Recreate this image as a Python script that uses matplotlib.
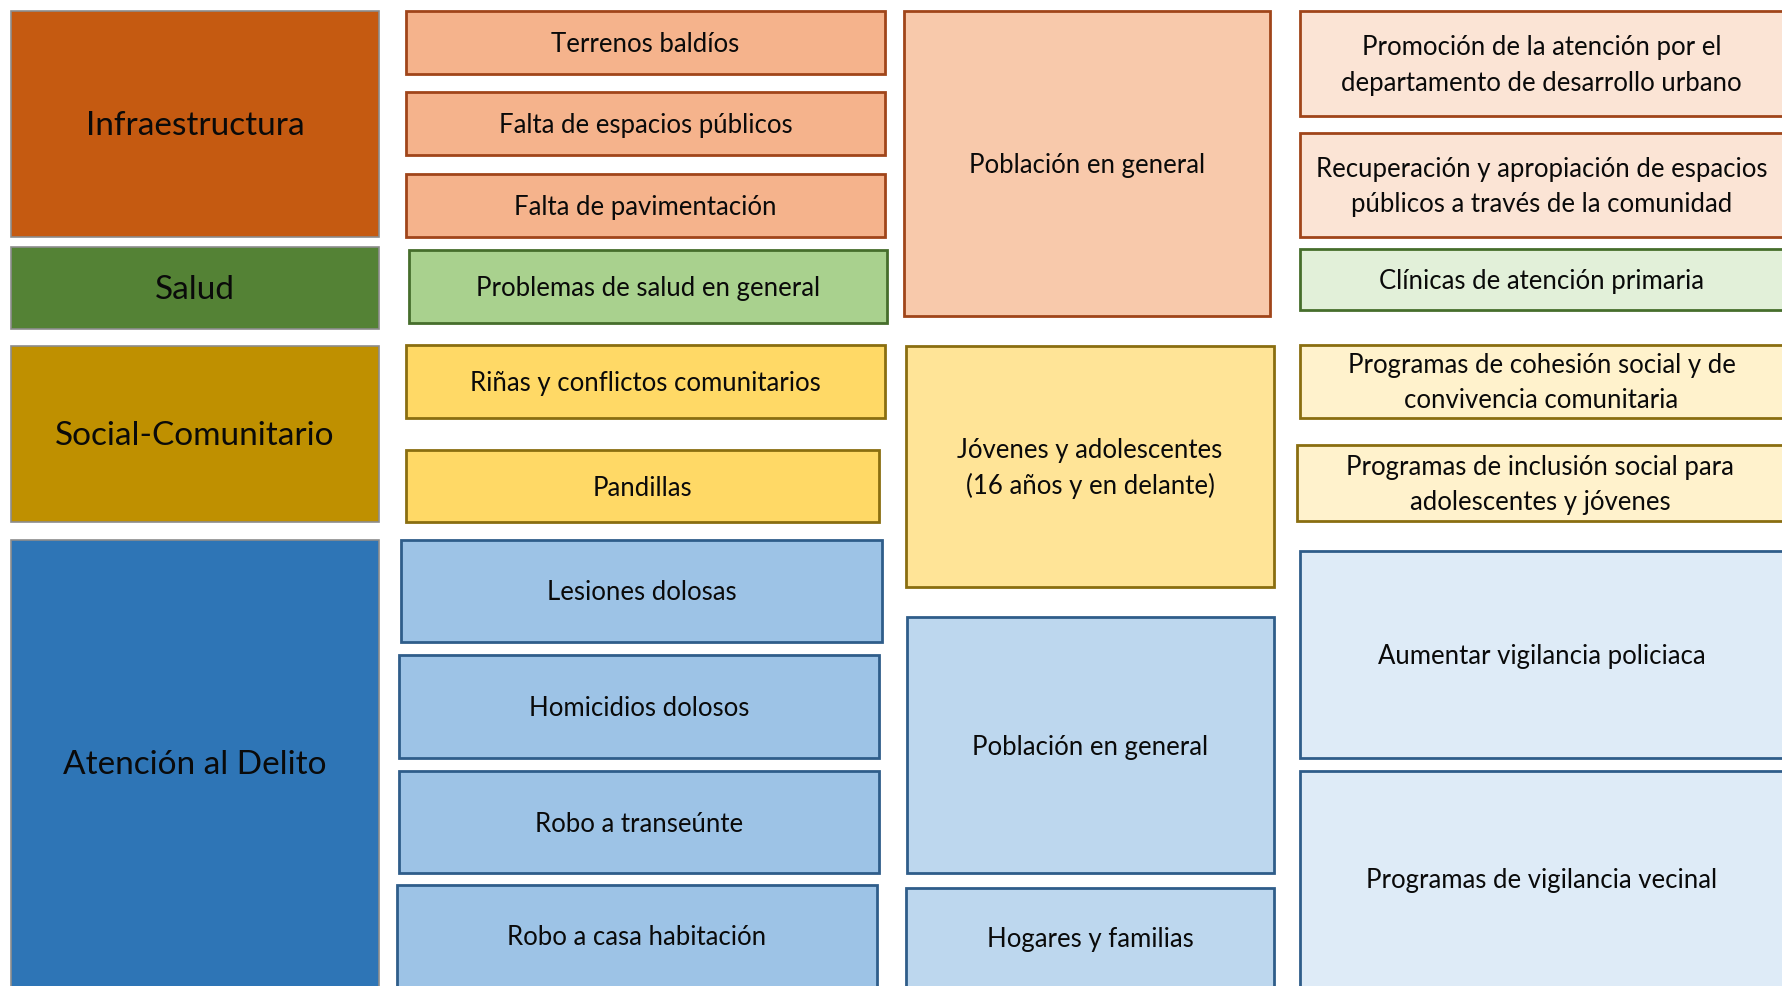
import matplotlib.pyplot as plt
from matplotlib.patches import Rectangle

# categories (column 1)
categories = ['Infraestructura', 'Salud', 'Social-Comunitario', 'Atención al Delito']

# problems (column 2)
problems = ['Terrenos baldíos', 'Falta de espacios públicos', 'Falta de pavimentación',
            'Problemas de salud en general',
            'Riñas y conflictos comunitarios', 'Pandillas',
            'Lesiones dolosas', 'Homicidios dolosos', 'Robo a transeúnte',
            'Robo a casa habitación']

# target population (column 3)
populations = ['Población en general', 'Jóvenes y adolescentes\n(16 años y en delante)',
               'Población en general', 'Hogares y familias']

# actions (column 4)
actions = ['Promoción de la atención por el\ndepartamento de desarrollo urbano',
           'Recuperación y apropiación de espacios\npúblicos a través de la comunidad',
           'Clínicas de atención primaria',
           'Programas de cohesión social y de\nconvivencia comunitaria',
           'Programas de inclusión social para\nadolescentes y jóvenes',
           'Aumentar vigilancia policiaca',
           'Programas de vigilancia vecinal']

# group of each box (0 infra, 1 salud, 2 social, 3 delito)
problem_group = [0, 0, 0, 1, 2, 2, 3, 3, 3, 3]
population_group = [0, 2, 3, 3]
action_group = [0, 0, 1, 2, 2, 3, 3]

# colours per group: [dark, col2, col3, col4], border
fills = {
    0: ['#C55A11', '#F5B38C', '#F8C9AB', '#FBE4D5'],
    1: ['#548235', '#A9D18E', '#C5E0B4', '#E2F0D9'],
    2: ['#BF9000', '#FFD966', '#FFE497', '#FFF2CC'],
    3: ['#2E75B6', '#9DC3E6', '#BDD7EE', '#DEEBF7'],
}
edges = {0: '#A0451A', 1: '#466E2C', 2: '#8A6E10', 3: '#2F5D8A'}

# layout in pixels: (x0, y0, x1, y1)
cat_boxes = [(11, 11, 379, 237), (11, 247, 379, 329), (11, 346, 379, 522), (11, 540, 379, 1000)]
prob_boxes = [(406, 11, 885, 74), (406, 92, 885, 155), (406, 174, 885, 237),
              (409, 250, 887, 323),
              (406, 345, 885, 418), (406, 450, 879, 522),
              (401, 540, 882, 642), (399, 655, 879, 758), (399, 771, 879, 873),
              (397, 885, 877, 1000)]
pop_boxes = [(904, 11, 1270, 316), (906, 346, 1274, 587), (907, 617, 1274, 873),
             (906, 888, 1274, 1000)]
act_boxes = [(1300, 11, 1800, 116), (1300, 133, 1800, 237), (1300, 249, 1800, 310),
             (1300, 345, 1800, 418), (1297, 445, 1800, 521), (1300, 551, 1800, 758),
             (1300, 771, 1800, 1000)]

W, H = 1783, 986
fig = plt.figure(figsize=(W / 100, H / 100), dpi=100)
ax = fig.add_axes([0, 0, 1, 1])
ax.set_xlim(0, W)
ax.set_ylim(H, 0)
ax.axis('off')

font = ['Lato', 'DejaVu Sans']


def draw_box(box, face, edge, text, size, lw=2.0):
    x0, y0, x1, y1 = box
    ax.add_patch(Rectangle((x0, y0), x1 - x0, y1 - y0, facecolor=face,
                           edgecolor=edge, linewidth=lw))
    cx = (x0 + min(x1, W)) / 2
    cy = (y0 + min(y1, H)) / 2 + 2
    ax.text(cx, cy, text, ha='center', va='center', fontsize=size,
            family=font, color='#0a0a0a', linespacing=1.5)


for i, lab in enumerate(categories):
    draw_box(cat_boxes[i], fills[i][0], '#8C8C8C', lab, 24, lw=1.2)

for i, lab in enumerate(problems):
    g = problem_group[i]
    draw_box(prob_boxes[i], fills[g][1], edges[g], lab, 18.5)

for i, lab in enumerate(populations):
    g = population_group[i]
    draw_box(pop_boxes[i], fills[g][2], edges[g], lab, 18.5)

for i, lab in enumerate(actions):
    g = action_group[i]
    draw_box(act_boxes[i], fills[g][3], edges[g], lab, 18.5)

fig.savefig('out.png', dpi=100)
